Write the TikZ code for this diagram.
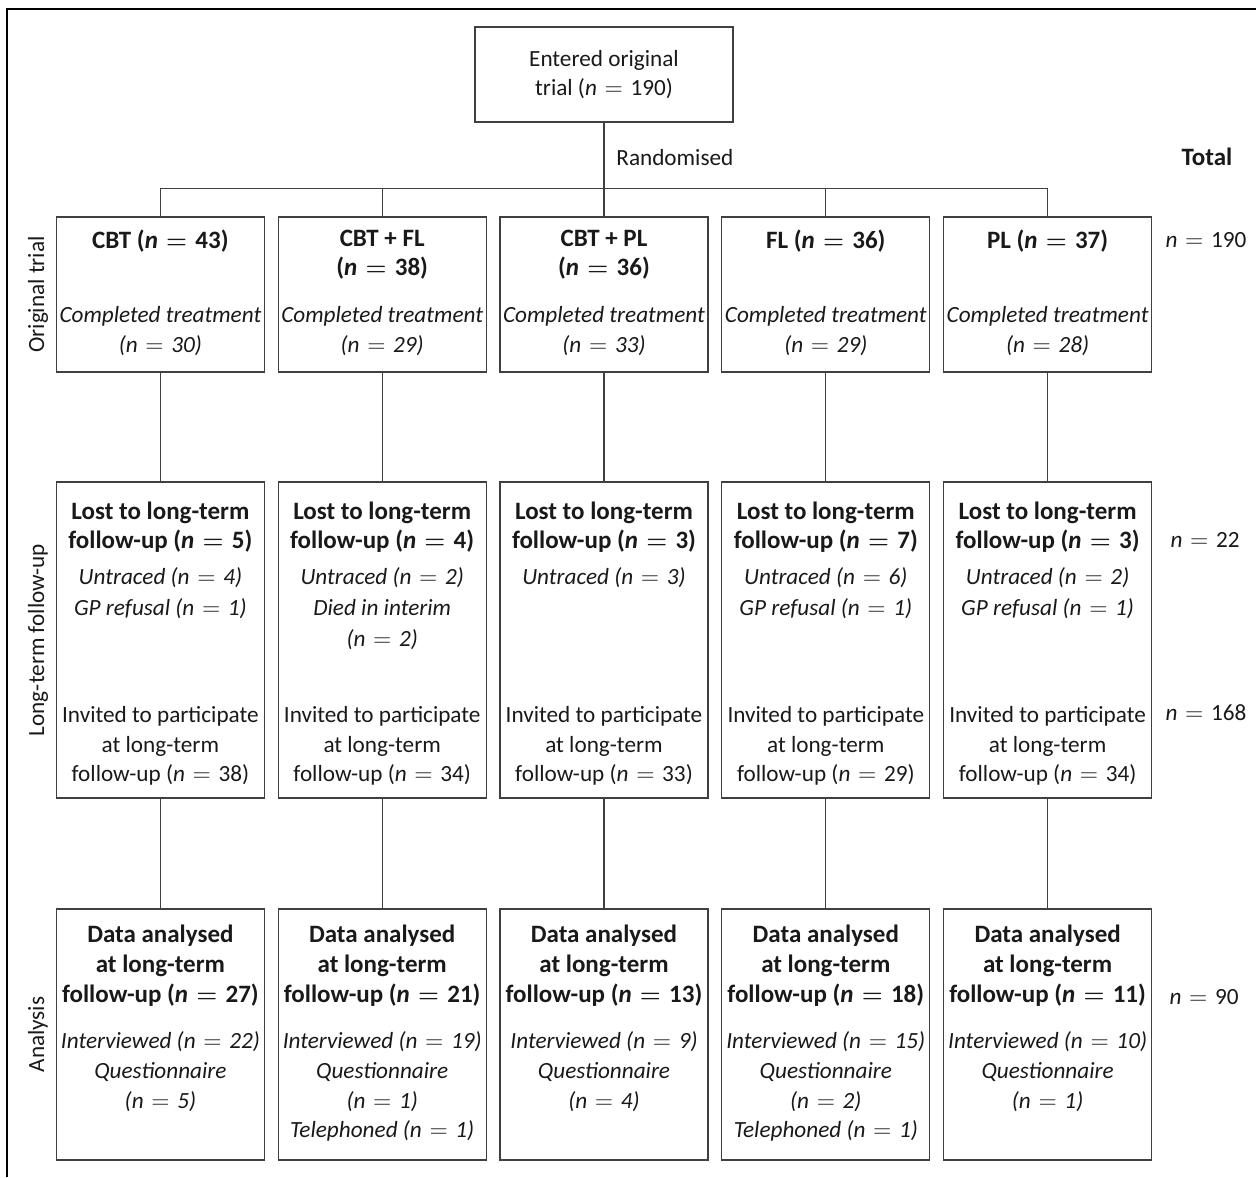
\documentclass[tikz,border=0pt]{standalone}
\usepackage{fontspec}
\setmainfont{Carlito}
\usetikzlibrary{positioning}

\newcommand{\flowcell}[5]{\begin{minipage}[c][#1][#2]{104pt}\centering\vspace*{#3}#5\par\vspace*{#4}\end{minipage}}
\newcommand{\gapfill}{\endgraf\vfill}
\newcommand{\eqs}{\hspace{0.33em}$=$\hspace{0.33em}}
\newcommand{\hd}[1]{{\fontsize{12.5}{14.8}\selectfont\bfseries\boldmath #1}}

\begin{document}
\begin{tikzpicture}[
	every node/.style={
		font=\fontsize{11.6}{14.8}\selectfont,
		text=black!90
	},
	box/.style={
		draw=black!75,
		line width=0.6pt,
		inner sep=0pt,
		minimum width=104pt
	},
	topbox/.style={box, minimum width=129pt, minimum height=47.5pt, align=center},
	trialbox/.style={box, minimum height=77.5pt},
	lostbox/.style={box, minimum height=158pt},
	databox/.style={box, minimum height=125.5pt},
	lbl/.style={inner sep=0pt},
	side/.style={inner sep=0pt, rotate=90},
	frame/.style={draw=black, line width=0.9pt},
	edge from parent/.style={draw=black!75, line width=0.6pt},
	level 1/.style={
		sibling distance=110.9pt,
		level distance=110pt,
		edge from parent path={(\tikzparentnode.south) -- ++(0,-33pt) -| (\tikzchildnode.north)}
	},
	level 2/.style={
		level distance=172.75pt,
		edge from parent path={(\tikzparentnode.south) -- (\tikzchildnode.north)}
	},
	level 3/.style={level distance=197.25pt}
]

\useasboundingbox (0,0) rectangle (628pt,-588.5pt);
\draw[frame] (628pt,-4.5pt) -- (3.5pt,-4.5pt) -- (3.5pt,-588.5pt);

\node[topbox] (T0) at (302pt,-37.25pt) {Entered original\\trial (\textit{n}\eqs 190)}
	child {node[trialbox] (C1) {\flowcell{77.5pt}{s}{6.5pt}{8.2pt}{%
			\hd{CBT (\textit{n}\eqs 43)}\gapfill
			\textit{Completed treatment\\(n\eqs 30)}}}
		child {node[lostbox] (L1) {\flowcell{158pt}{s}{9.8pt}{6.2pt}{%
				\hd{Lost to long-term\\follow-up (\textit{n}\eqs 5)}\\[3.3pt]
				\textit{Untraced (n\eqs 4)\\[0.6pt]GP refusal (n\eqs 1)}\gapfill
				Invited to participate\\at long-term\\follow-up (\textit{n}\eqs 38)}}
			child {node[databox] (D1) {\flowcell{125.5pt}{t}{8.2pt}{0pt}{%
					\hd{Data analysed\\at long-term\\follow-up (\textit{n}\eqs 27)}\\[8.6pt]
					\textit{Interviewed (n\eqs 22)\\Questionnaire\\(n\eqs 5)}}}
			}
		}
	}
	child {node[trialbox] (C2) {\flowcell{77.5pt}{s}{6.5pt}{8.2pt}{%
			\hd{CBT + FL\\(\textit{n}\eqs 38)}\gapfill
			\textit{Completed treatment\\(n\eqs 29)}}}
		child {node[lostbox] (L2) {\flowcell{158pt}{s}{9.8pt}{6.2pt}{%
				\hd{Lost to long-term\\follow-up (\textit{n}\eqs 4)}\\[3.3pt]
				\textit{Untraced (n\eqs 2)\\[0.6pt]Died in interim\\[0.6pt](n\eqs 2)}\gapfill
				Invited to participate\\at long-term\\follow-up (\textit{n}\eqs 34)}}
			child {node[databox] (D2) {\flowcell{125.5pt}{t}{8.2pt}{0pt}{%
					\hd{Data analysed\\at long-term\\follow-up (\textit{n}\eqs 21)}\\[8.6pt]
					\textit{Interviewed (n\eqs 19)\\Questionnaire\\(n\eqs 1)\\Telephoned (n\eqs 1)}}}
			}
		}
	}
	child {node[trialbox] (C3) {\flowcell{77.5pt}{s}{6.5pt}{8.2pt}{%
			\hd{CBT + PL\\(\textit{n}\eqs 36)}\gapfill
			\textit{Completed treatment\\(n\eqs 33)}}}
		child {node[lostbox] (L3) {\flowcell{158pt}{s}{9.8pt}{6.2pt}{%
				\hd{Lost to long-term\\follow-up (\textit{n}\eqs 3)}\\[3.3pt]
				\textit{Untraced (n\eqs 3)}\gapfill
				Invited to participate\\at long-term\\follow-up (\textit{n}\eqs 33)}}
			child {node[databox] (D3) {\flowcell{125.5pt}{t}{8.2pt}{0pt}{%
					\hd{Data analysed\\at long-term\\follow-up (\textit{n}\eqs 13)}\\[8.6pt]
					\textit{Interviewed (n\eqs 9)\\Questionnaire\\(n\eqs 4)}}}
			}
		}
	}
	child {node[trialbox] (C4) {\flowcell{77.5pt}{s}{6.5pt}{8.2pt}{%
			\hd{FL (\textit{n}\eqs 36)}\gapfill
			\textit{Completed treatment\\(n\eqs 29)}}}
		child {node[lostbox] (L4) {\flowcell{158pt}{s}{9.8pt}{6.2pt}{%
				\hd{Lost to long-term\\follow-up (\textit{n}\eqs 7)}\\[3.3pt]
				\textit{Untraced (n\eqs 6)\\[0.6pt]GP refusal (n\eqs 1)}\gapfill
				Invited to participate\\at long-term\\follow-up (\textit{n}\eqs 29)}}
			child {node[databox] (D4) {\flowcell{125.5pt}{t}{8.2pt}{0pt}{%
					\hd{Data analysed\\at long-term\\follow-up (\textit{n}\eqs 18)}\\[8.6pt]
					\textit{Interviewed (n\eqs 15)\\Questionnaire\\(n\eqs 2)\\Telephoned (n\eqs 1)}}}
			}
		}
	}
	child {node[trialbox] (C5) {\flowcell{77.5pt}{s}{6.5pt}{8.2pt}{%
			\hd{PL (\textit{n}\eqs 37)}\gapfill
			\textit{Completed treatment\\(n\eqs 28)}}}
		child {node[lostbox] (L5) {\flowcell{158pt}{s}{9.8pt}{6.2pt}{%
				\hd{Lost to long-term\\follow-up (\textit{n}\eqs 3)}\\[3.3pt]
				\textit{Untraced (n\eqs 2)\\[0.6pt]GP refusal (n\eqs 1)}\gapfill
				Invited to participate\\at long-term\\follow-up (\textit{n}\eqs 34)}}
			child {node[databox] (D5) {\flowcell{125.5pt}{t}{8.2pt}{0pt}{%
					\hd{Data analysed\\at long-term\\follow-up (\textit{n}\eqs 11)}\\[8.6pt]
					\textit{Interviewed (n\eqs 10)\\Questionnaire\\(n\eqs 1)}}}
			}
		}
	}
	;

\node[lbl, below right=13pt and 6pt of T0.south] (rand) {Randomised};

% row labels
\node[side] (S1) at (19pt,-147.25pt) {Original trial};
\node[side] (S2) at (19pt,-320pt) {Long-term follow-up};
\node[side] (S3) at (19pt,-517.25pt) {Analysis};

% totals
\node[lbl] (tot) at (603.5pt,-78.5pt) {\hd{Total}};
\node[lbl] (n1) at (603pt,-120pt) {\textit{n}\eqs 190};
\node[lbl] (n2) at (602.5pt,-270pt) {\textit{n}\eqs 22};
\node[lbl] (n3) at (603pt,-356.5pt) {\textit{n}\eqs 168};
\node[lbl] (n4) at (602pt,-498.5pt) {\textit{n}\eqs 90};
\end{tikzpicture}
\end{document}
